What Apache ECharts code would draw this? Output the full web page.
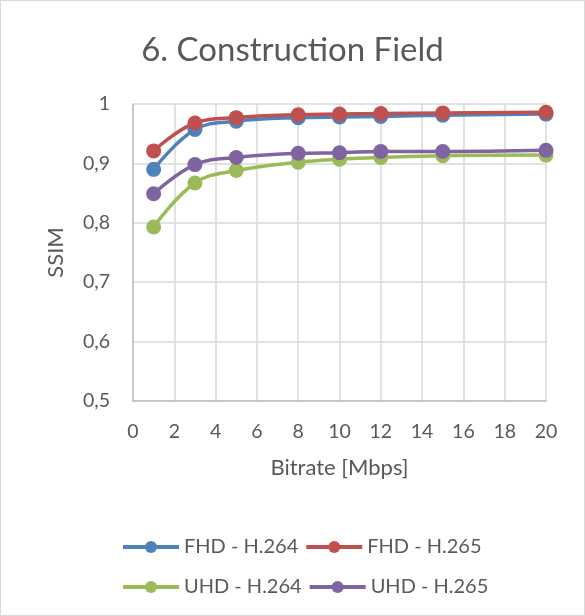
<!DOCTYPE html>
<html><head><meta charset="utf-8">
<script src="https://cdn.jsdelivr.net/npm/echarts@6/dist/echarts.min.js"></script>
<style>html,body{margin:0;padding:0;background:#fff}#c{width:585px;height:616px;box-sizing:border-box;border:1px solid #d9d9d9}</style>
</head><body><div id="c"></div>
<script>
const bitrate = [1, 3, 5, 8, 10, 12, 15, 20];
const fhd264 = [0.890, 0.957, 0.971, 0.977, 0.978, 0.979, 0.981, 0.983];
const fhd265 = [0.921, 0.968, 0.977, 0.982, 0.983, 0.984, 0.985, 0.986];
const uhd264 = [0.793, 0.867, 0.888, 0.902, 0.907, 0.910, 0.913, 0.914];
const uhd265 = [0.849, 0.898, 0.910, 0.917, 0.918, 0.920, 0.920, 0.922];
const seriesNames = ['FHD - H.264', 'FHD - H.265', 'UHD - H.264', 'UHD - H.265'];
const colors = ['#4F81BD', '#C0504D', '#9BBB59', '#8064A2'];
const FONT = 'Lato';
const txt = '#595959';
const chart = echarts.init(document.getElementById('c'));
const mk = (name, vals, color) => ({
  name, type: 'line', smooth: 0.4, data: bitrate.map((x, i) => [x, vals[i]]),
  symbol: 'circle', symbolSize: 15, color,
  lineStyle: { width: 3.5, color }, itemStyle: { color }
});
const legendText = { fontFamily: FONT, fontSize: 20, color: txt };
const legendBase = { left: 115, itemWidth: 56, itemHeight: 15, itemGap: 6,
  lineStyle: { width: 4 }, textStyle: legendText };
chart.setOption({
  animation: false,
  title: { text: '6. Construction Field', left: 'center', top: 28,
    textStyle: { fontFamily: FONT, fontSize: 33, fontWeight: 'normal', color: txt } },
  legend: [
    Object.assign({ data: seriesNames.slice(0, 2), top: 531 }, legendBase),
    Object.assign({ data: seriesNames.slice(2, 4), top: 571 }, legendBase)
  ],
  grid: { left: 132, right: 38, top: 103, bottom: 214 },
  xAxis: { type: 'value', min: 0, max: 20, interval: 2,
    name: 'Bitrate [Mbps]', nameLocation: 'middle', nameGap: 56,
    nameTextStyle: { fontFamily: FONT, fontSize: 22, color: txt },
    axisLine: { lineStyle: { color: '#bfbfbf', width: 1.5 } }, axisTick: { show: false },
    axisLabel: { fontFamily: FONT, fontSize: 19.5, color: txt, margin: 21 },
    splitLine: { show: true, lineStyle: { color: '#d9d9d9', width: 1.5 } } },
  yAxis: { type: 'value', min: 0.5, max: 1, interval: 0.1,
    name: 'SSIM', nameLocation: 'middle', nameGap: 66,
    nameTextStyle: { fontFamily: FONT, fontSize: 22, color: txt },
    axisLine: { show: true, lineStyle: { color: '#bfbfbf', width: 1.5 } }, axisTick: { show: false },
    axisLabel: { fontFamily: FONT, fontSize: 19.5, color: txt, margin: 23,
      formatter: v => (Math.round(v * 10) / 10).toString().replace('.', ',') },
    splitLine: { show: true, lineStyle: { color: '#d9d9d9', width: 1.5 } } },
  series: [
    mk(seriesNames[0], fhd264, colors[0]),
    mk(seriesNames[1], fhd265, colors[1]),
    mk(seriesNames[2], uhd264, colors[2]),
    mk(seriesNames[3], uhd265, colors[3])
  ]
});
</script></body></html>
